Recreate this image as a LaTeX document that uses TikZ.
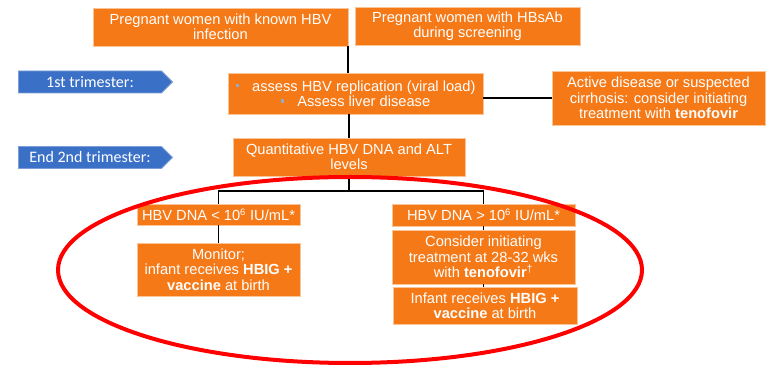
\documentclass[tikz,border=0pt]{standalone}
\usepackage{fontspec}
\setmainfont{Liberation Sans}
\newfontfamily\tagfont{Carlito}
\usetikzlibrary{shapes.symbols}

\definecolor{boxorange}{RGB}{246,121,23}
\definecolor{boxedge}{RGB}{250,196,150}
\definecolor{tagblue}{RGB}{59,112,199}
\definecolor{tagedge}{RGB}{125,158,215}
\definecolor{dotgrey}{RGB}{150,170,200}
\newcommand{\dotbullet}{{\color{dotgrey}\rule[0.25em]{2.5pt}{2.5pt}}\hspace{0.9em}}

\begin{document}
\begin{tikzpicture}[x=0.75pt, y=-0.75pt,
	box/.style 2 args = {draw=boxedge, line width=0.4pt, fill=boxorange, text=white, align=center, inner sep=0pt, minimum width=#1*0.75pt, minimum height=#2*0.75pt, font=\fontsize{11}{11.5}\selectfont},
	tag/.style = {signal, signal to=east, draw=tagedge, line width=0.6pt, fill=tagblue, text=white, inner sep=0pt, minimum width=154*0.75pt, minimum height=22*0.75pt, font=\tagfont\fontsize{12}{13}\selectfont},
	link/.style = {line width=1.3pt}]
		\useasboundingbox (0,0) rectangle (767,366);
		% time tags
		\node[tag] (first) at (90,82) {1st trimester:};
		\node[tag] (second) at (90,157.5) {End 2nd trimester:};
		% boxes
		\node[box={255}{38}] (known) at (220.5,27) {Pregnant women with known HBV\\infection};
		\node[box={225}{38}] (hbsab) at (467.5,26) {Pregnant women with HBsAb\\during screening};
		\node[box={255}{41}] (assess) at (355.5,93.5) {\dotbullet assess HBV replication (viral load)\\\dotbullet Assess liver disease};
		\node[box={213}{54}] (active) at (658.5,98) {Active disease or suspected\\cirrhosis: consider initiating\\treatment with \textbf{tenofovir}};
		\node[box={232}{38}] (quant) at (349,157) {Quantitative HBV DNA and ALT\\levels};
		\node[box={163}{21}] (low) at (218.5,214.5) {HBV DNA < 10\textsuperscript{\scriptsize 6} IU/mL*};
		\node[box={163}{53}] (monitor) at (218.5,269.5) {Monitor;\\infant receives \textbf{HBIG +}\\\textbf{vaccine} at birth};
		\node[box={183}{22}] (high) at (483.5,215) {HBV DNA > 10\textsuperscript{\scriptsize 6} IU/mL*};
		\node[box={183}{54}] (consider) at (483.5,257) {Consider initiating\\treatment at 28-32 wks\\with \textbf{tenofovir}\textsuperscript{\textdagger}};
		\node[box={184}{37}] (infant) at (485,305.5) {Infant receives \textbf{HBIG +}\\\textbf{vaccine} at birth};
		\coordinate (split) at (349,191);
		% connectors
		\draw[link] (known.south east) -- (known.south east |- assess.north);
		\draw[link] (assess.east |- active.west) -- (active.west);
		\draw[link] (quant.north |- assess.south) -- (quant.north);
		\draw[link] (quant.south) -- (split);
		\draw[link] (split) -| (low.north);
		\draw[link] (split) -| (high.north);
		\draw[link] (low.south) -- (monitor.north);
		\draw[link] (high.south) -- (consider.north);
		\draw[link] (consider.south) -- (consider.south |- infant.north);
		% highlight
		\draw[red, line width=3pt] (350,270) ellipse [x radius=219pt, y radius=69.75pt];
\end{tikzpicture}
\end{document}
